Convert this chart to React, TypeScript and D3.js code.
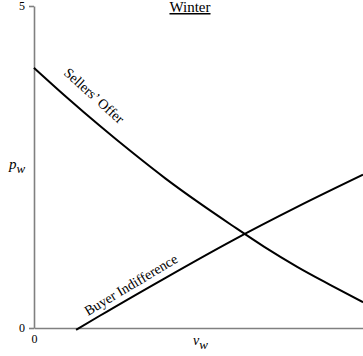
import React, { useEffect, useRef } from "react";
import * as d3 from "d3";

const width = 363;
const height = 356;
const margin = { top: 6, right: 0, bottom: 28, left: 34 };

// sellers' offer curve
const sellerV = [0, 0.5, 1, 1.5, 2, 2.5, 3, 3.5, 4, 4.5, 5];
const sellerP = [4.04, 3.58, 3.14, 2.72, 2.32, 1.95, 1.6, 1.26, 0.95, 0.67, 0.4];

// buyer indifference curve
const buyerV = [0.64, 1, 2, 3, 4, 5];
const buyerP = [-0.03, 0.19, 0.78, 1.35, 1.88, 2.38];

const yTicks = [0, 5];
const xTicks = [0];
const title = "Winter";

const font = "'Liberation Serif', 'Times New Roman', serif";

const App = () => {
  const xAxisRef = useRef<SVGGElement>(null);
  const yAxisRef = useRef<SVGGElement>(null);

  const x = d3.scaleLinear().domain([0, 5]).range([margin.left, width - margin.right]);
  const y = d3.scaleLinear().domain([0, 5]).range([height - margin.bottom, margin.top]);

  const line = d3
    .line<[number, number]>()
    .x(d => x(d[0]))
    .y(d => y(d[1]))
    .curve(d3.curveMonotoneX);

  const sellerPath = line(sellerV.map((v, i) => [v, sellerP[i]]));
  const buyerPath = line(buyerV.map((v, i) => [v, buyerP[i]]));

  useEffect(() => {
    const fmt = d3.format("d");
    const yAxis = d3.axisLeft(y).tickValues(yTicks).tickFormat(fmt).tickSize(5).tickSizeOuter(0).tickPadding(4);
    const xAxis = d3.axisBottom(x).tickValues(xTicks).tickFormat(fmt).tickSize(0).tickSizeOuter(0).tickPadding(6);
    const gy = d3.select(yAxisRef.current!);
    gy.call(yAxis);
    const gx = d3.select(xAxisRef.current!);
    gx.call(xAxis);
    [gx, gy].forEach(g => {
      g.attr("font-family", font);
      g.selectAll("path, line").attr("stroke", "#808080").attr("stroke-width", 1.6);
      g.selectAll("text")
        .attr("fill", "#000")
        .style("font-family", font)
        .style("font-size", "12px");
    });
  }, []);

  return (
    <svg width={width} height={height} style={{ display: "block", position: "absolute", left: 0, top: 0 }}>
      <g ref={xAxisRef} transform={`translate(0,${y(0)})`} />
      <g ref={yAxisRef} transform={`translate(${x(0)},0)`} />
      <path d={sellerPath ?? ""} fill="none" stroke="#000" strokeWidth={2} />
      <path d={buyerPath ?? ""} fill="none" stroke="#000" strokeWidth={2} />

      <text x={190} y={12} textAnchor="middle" fontFamily={font} fontSize={15}
        style={{ textDecoration: "underline" }}>
        {title}
      </text>

      <text transform="translate(63,74) rotate(42)" fontFamily={font} fontSize={14}>
        Sellers’ Offer
      </text>
      <text transform="translate(88,316) rotate(-31)" fontFamily={font} fontSize={14}>
        Buyer Indifference
      </text>

      <text x={9} y={169} fontFamily={font} fontSize={15} fontStyle="italic">
        p<tspan fontSize={13} dy={4}>w</tspan>
      </text>
      <text x={193} y={345} fontFamily={font} fontSize={14} fontStyle="italic">
        v<tspan fontSize={13} dy={4}>w</tspan>
      </text>
    </svg>
  );
};

export default App;
